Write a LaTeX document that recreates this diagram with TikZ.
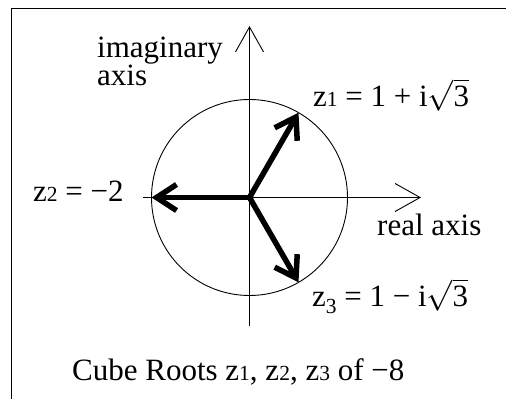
\RequirePackage{fix-cm}
\documentclass[tikz,border=0pt]{standalone}
\usepackage{fontspec}
\setmainfont{Liberation Serif}
\usetikzlibrary{arrows.meta,calc}
\newcommand\smd[1]{{\fontsize{21.5pt}{22pt}\selectfont #1}}
\newcommand\lowd[1]{\raisebox{-7pt}{\fontsize{21.5pt}{22pt}\selectfont #1}}
\newcommand\rootthree{$\sqrt{\hbox{3}}$}
\begin{document}
\begin{tikzpicture}[x=1pt,y=1pt,
  lbl/.style={inner sep=0pt, anchor=base west, font=\fontsize{31pt}{34pt}\selectfont},
  thin/.style={line width=0.9pt},
  axisarrow/.style={thin, -{Straight Barb[length=25pt,width=28pt]}},
  rootarrow/.style={line width=5.5pt, line cap=round, -{Straight Barb[length=20pt,width=26pt]}},
  frame/.style={line width=1.3pt}]
\useasboundingbox (0,0) rectangle (506,399);
% frame (only left and top edges visible)
\draw[frame] (11.5,0) -- (11.5,390.5) -- (506,390.5);
% centre and points
\coordinate (O) at (249.5,201.5);
\coordinate (vb) at (249.5,73);
\coordinate (vt) at (249.5,373);
\coordinate (hl) at (143,201.5);
\coordinate (hr) at (421,201.5);
\coordinate (T1) at ($(O)+(60:98)$);
\coordinate (T2) at ($(O)+(180:98)$);
\coordinate (T3) at ($(O)+(-60:98)$);
% circle
\draw[thin] (O) circle (98);
% axes
\draw[axisarrow] (vb) -- (vt);
\draw[axisarrow] (hl) -- (hr);
% roots
\draw[rootarrow] (O) -- (T1);
\draw[rootarrow] (O) -- (T2);
\draw[rootarrow] (O) -- (T3);
% labels
\node[lbl] (im) at (97,341) {imaginary};
\node[lbl] (ax) at (97,313) {axis};
\node[lbl] (zone) at (313,292.3) {z\smd{1} = 1 + i\rootthree};
\node[lbl] (ztwo) at (33,197) {z\smd{2} = −2};
\node[lbl] (real) at (377,163) {real axis};
\node[lbl] (zthree) at (312,92.3) {z\lowd{3} = 1 − i\rootthree};
\node[lbl] (cap) at (72,19) {Cube Roots z\smd{1}, z\smd{2}, z\smd{3} of −8};
\end{tikzpicture}
\end{document}
